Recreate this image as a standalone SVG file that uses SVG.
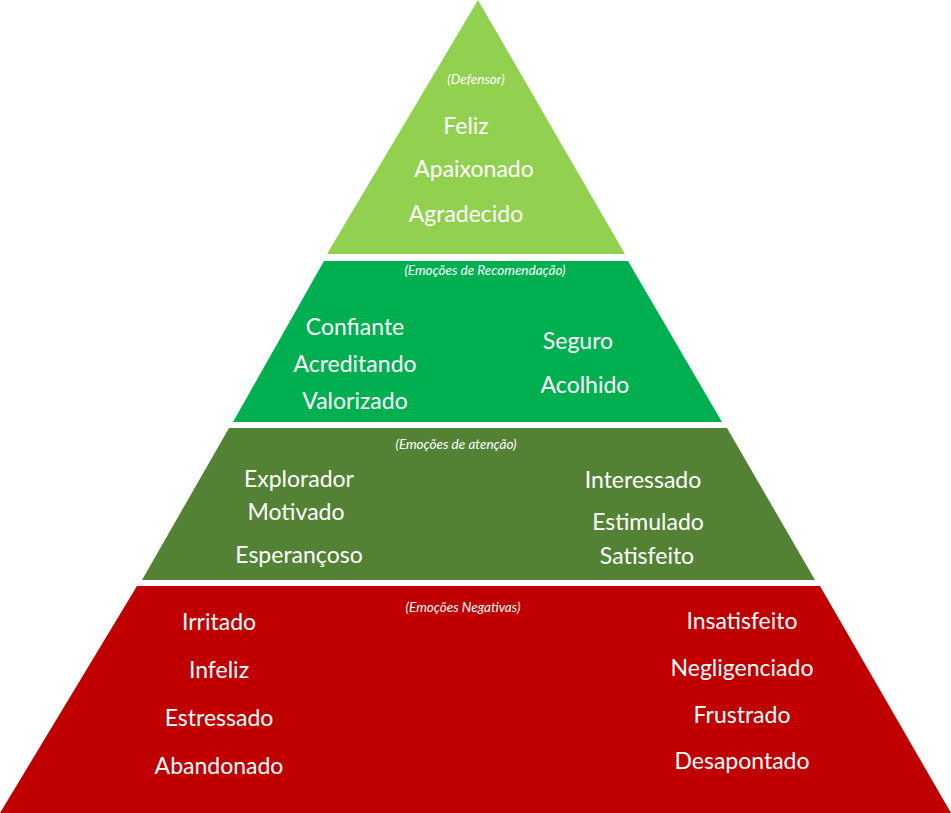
<svg xmlns="http://www.w3.org/2000/svg" width="951" height="813" viewBox="0 0 951 813">
<style>
text{font-family:Lato,"Liberation Sans",sans-serif;fill:#fff;text-anchor:middle}
.m{font-size:23px}
.s{font-size:13.5px;font-style:italic}
</style>
<rect width="951" height="813" fill="#fff"/>
<g id="tier1">
<polygon points="478,0 625,254 327,254" fill="#92D050"/>
<text class="s" x="476" y="84">(Defensor)</text>
<text class="m" x="466" y="134">Feliz</text>
<text class="m" x="474" y="177">Apaixonado</text>
<text class="m" x="466" y="222">Agradecido</text>
</g>
<g id="tier2">
<polygon points="324,261 628,261 722,422 233,422" fill="#00B050"/>
<text class="s" x="485" y="275">(Emoções de Recomendação)</text>
<text class="m" x="355" y="335">Confiante</text>
<text class="m" x="355" y="372">Acreditando</text>
<text class="m" x="355" y="409">Valorizado</text>
<text class="m" x="578" y="349">Seguro</text>
<text class="m" x="585" y="393">Acolhido</text>
</g>
<g id="tier3">
<polygon points="229,428 727,428 815,580 142,580" fill="#548235"/>
<text class="s" x="456" y="449">(Emoções de atenção)</text>
<text class="m" x="299" y="487">Explorador</text>
<text class="m" x="296" y="520">Motivado</text>
<text class="m" x="299" y="563">Esperançoso</text>
<text class="m" x="643" y="488">Interessado</text>
<text class="m" x="648" y="530">Estimulado</text>
<text class="m" x="647" y="564">Satisfeito</text>
</g>
<g id="tier4">
<polygon points="137,586 820,586 951,813 0,813" fill="#C00000"/>
<text class="s" x="463" y="612">(Emoções Negativas)</text>
<text class="m" x="219" y="630">Irritado</text>
<text class="m" x="219" y="678">Infeliz</text>
<text class="m" x="219" y="726">Estressado</text>
<text class="m" x="219" y="774">Abandonado</text>
<text class="m" x="742" y="629">Insatisfeito</text>
<text class="m" x="742" y="676">Negligenciado</text>
<text class="m" x="742" y="723">Frustrado</text>
<text class="m" x="742" y="769">Desapontado</text>
</g>
<g id="connectors"/>
</svg>
